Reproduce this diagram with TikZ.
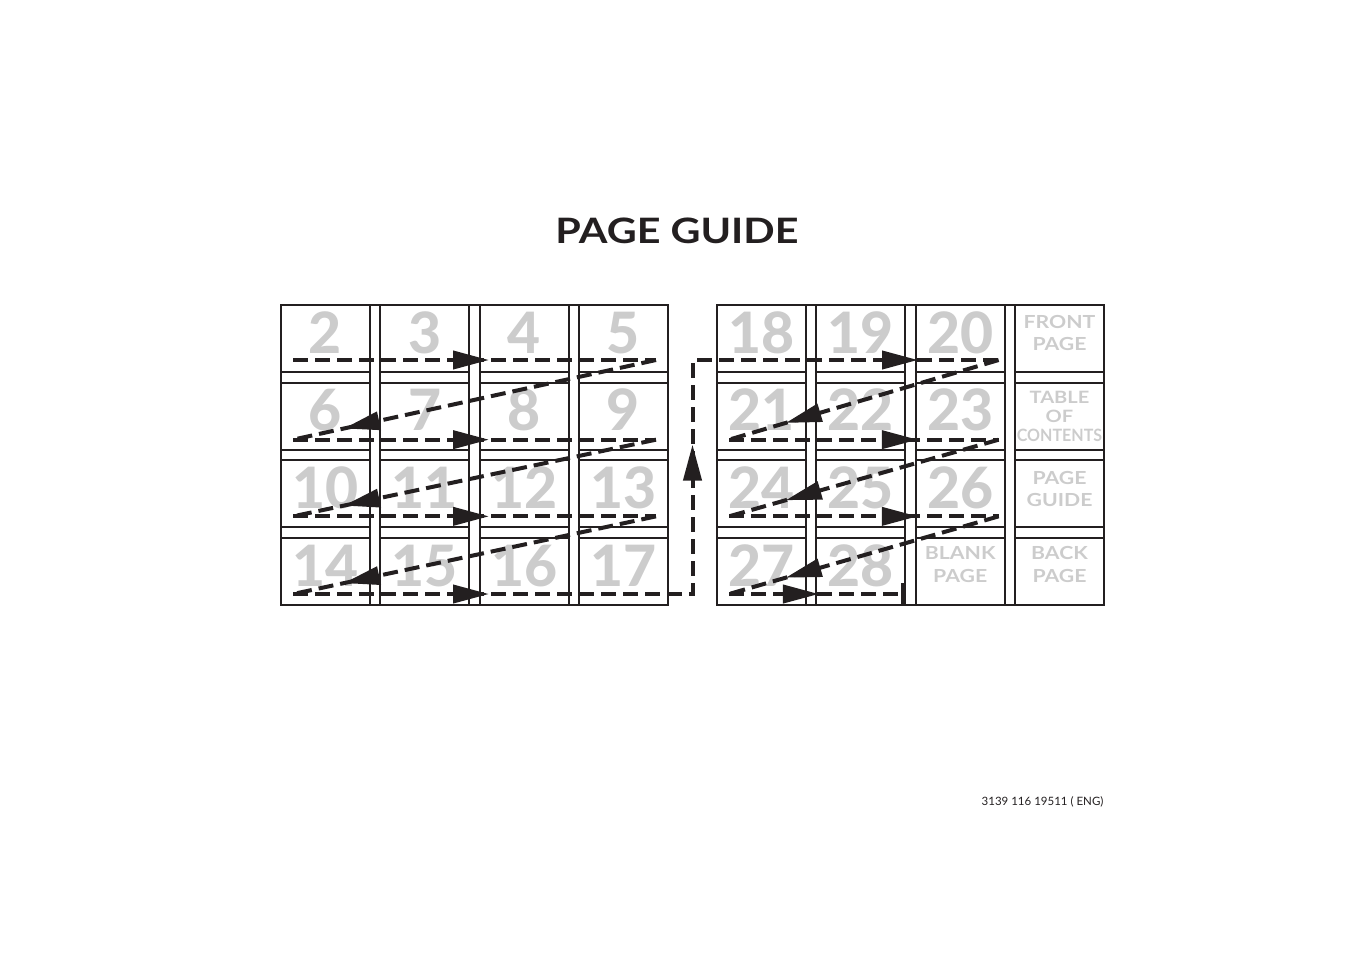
\documentclass[tikz,border=0pt]{standalone}
\usepackage{fontspec}
\usepackage{graphicx}
\setmainfont{Lato}
\newfontfamily\widefont[FakeStretch=1.18]{Lato}
\newfontfamily\numfont{Lato Heavy}
\usetikzlibrary{arrows.meta, calc, decorations.markings}
\definecolor{ink}{HTML}{231F20}
\definecolor{pagegray}{HTML}{CCCCCC}
\tikzset{
  pagebox/.style={rectangle, draw=ink, line width=1.8pt, minimum width=89pt, minimum height=67pt, inner sep=0pt, outer sep=0pt, text=pagegray, font=\numfont\fontsize{57}{57}\selectfont, text height=41pt, text depth=12pt},
  wordtxt/.style={align=center, inner sep=0pt, text=pagegray, font=\widefont\bfseries\fontsize{18}{22.5}\selectfont},
  colline/.style={draw=ink, line width=1.8pt},
  frame/.style={draw=ink, line width=2.4pt},
  flow/.style={draw=ink, line width=4pt, dash pattern=on 15pt off 7pt},
  tipat/.style={postaction={decorate, decoration={markings, mark=at position #1 with {\arrow{Triangle[length=36pt, width=18pt]}}}}},
}

\begin{document}
\begin{tikzpicture}[x=1pt, y=-1pt]
\useasboundingbox (0,0) rectangle (1351,954);
\node[anchor=base, font=\widefont\bfseries\fontsize{35}{35}\selectfont, text=ink] (title) at (677,243) {PAGE GUIDE};
% left sheet
\foreach \n [count=\i from 0] in {2,...,17}
  \node[pagebox] (p\n) at ({325.5+99.33*mod(\i,4)}, {338.5+77.67*int(\i/4)}) {\n};
% right sheet
\foreach \n [count=\i from 0] in {18,...,28}
  \node[pagebox] (p\n) at ({761.5+99.33*mod(\i,3)}, {338.5+77.67*int(\i/3)}) {\n};
\node[pagebox] (pfront) at (1059.5,338.5) {};
\node[pagebox] (ptoc) at (1059.5,416.2) {};
\node[pagebox] (pguide) at (1059.5,493.8) {};
\node[pagebox] (pblank) at (960.2,571.5) {};
\node[pagebox] (pback) at (1059.5,571.5) {};
\node[wordtxt] (tfront) at ([yshift=5.5pt]pfront.center) {FRONT\\PAGE};
\node[wordtxt, font=\widefont\bfseries\fontsize{17}{19}\selectfont] (ttoc) at (ptoc.center) {TABLE\\OF\\\scalebox{0.8}[1]{CONTENTS}};
\node[wordtxt] (tguide) at ([yshift=5pt]pguide.center) {PAGE\\GUIDE};
\node[wordtxt] (tblank) at ([yshift=7pt]pblank.center) {BLANK\\PAGE};
\node[wordtxt] (tback) at ([yshift=7pt]pback.center) {BACK\\PAGE};
% column strips and frames
\foreach \t/\b in {2/14, 3/15, 4/16, 5/17, 18/27, 19/28, 20/blank, front/back}
  \draw[colline] (p\t.north west) rectangle (p\b.south east);
\draw[frame] (p2.north west) rectangle (p17.south east);
\draw[frame] (p18.north west) rectangle (pback.south east);
% reading order
\coordinate (a1) at ([xshift=12pt, yshift=12pt]p2.south west);
\coordinate (b1) at ([xshift=-12pt, yshift=12pt]p5.south east);
\coordinate (a2) at ([xshift=12pt, yshift=10pt]p6.south west);
\coordinate (b2) at ([xshift=-12pt, yshift=10pt]p9.south east);
\coordinate (a3) at ([xshift=12pt, yshift=11pt]p10.south west);
\coordinate (b3) at ([xshift=-12pt, yshift=11pt]p13.south east);
\coordinate (a4) at ([xshift=12pt, yshift=11pt]p14.south west);
\coordinate (gap) at ($(p17.east)!.5!(p27.west)$);
\coordinate (c1) at (gap |- a4);
\coordinate (c2) at (gap |- a1);
\coordinate (d1) at ([xshift=-6pt, yshift=12pt]p20.south east);
\coordinate (e2) at ([xshift=12pt, yshift=10pt]p21.south west);
\coordinate (d2) at ([xshift=-6pt, yshift=10pt]p23.south east);
\coordinate (e3) at ([xshift=12pt, yshift=11pt]p24.south west);
\coordinate (d3) at ([xshift=-6pt, yshift=11pt]p26.south east);
\coordinate (e4) at ([xshift=12pt, yshift=11pt]p27.south west);
\coordinate (f) at ([yshift=11pt]p28.south east);
\draw[flow, tipat=0.54] (a1) -- (b1);
\draw[flow, tipat=0.86] (b1) -- (a2);
\draw[flow, tipat=0.54] (a2) -- (b2);
\draw[flow, tipat=0.86] (b2) -- (a3);
\draw[flow, tipat=0.54] (a3) -- (b3);
\draw[flow, tipat=0.86] (b3) -- (a4);
\draw[flow, tipat=196pt, tipat=549pt, tipat=859pt] (a4) -- (c1) -- (c2) -- (d1);
\draw[flow, tipat=0.79] (d1) -- (e2);
\draw[flow, tipat=0.70] (e2) -- (d2);
\draw[flow, tipat=0.79] (d2) -- (e3);
\draw[flow, tipat=0.70] (e3) -- (d3);
\draw[flow, tipat=0.79] (d3) -- (e4);
\draw[flow, tipat=0.51, -{Bar[width=22pt]}] (e4) -- (f);
\node[anchor=base east, text=ink, font=\fontsize{11.5}{12}\selectfont] (code) at (1107,805) {3139 116 19511 ( ENG)};
\end{tikzpicture}
\end{document}
